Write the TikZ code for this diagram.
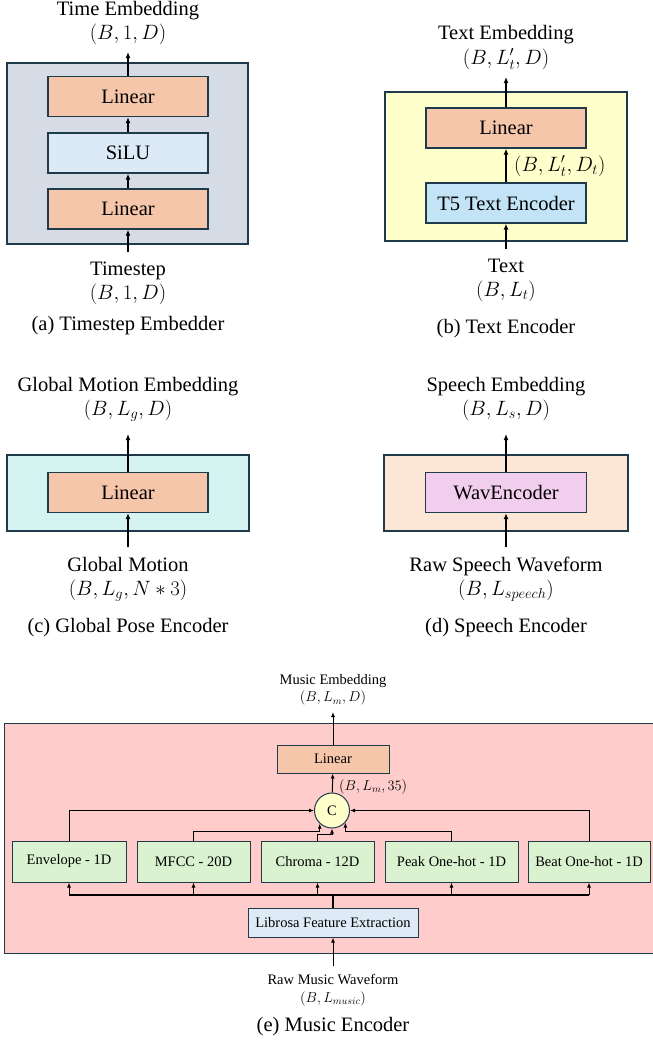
\documentclass[tikz,border=0pt]{standalone}
\usepackage{fontspec}
\setmainfont{Liberation Serif}
\usetikzlibrary{arrows.meta, positioning}

\definecolor{edge}{HTML}{1F3A4B}
\definecolor{grayback}{HTML}{D6DCE5}
\definecolor{linfill}{HTML}{F6C6AA}
\definecolor{silufill}{HTML}{DCE9F6}
\definecolor{yellowback}{HTML}{FFFFCC}
\definecolor{tfivefill}{HTML}{C2E4F6}
\definecolor{cyanback}{HTML}{D5F3F0}
\definecolor{peachback}{HTML}{FCE6D5}
\definecolor{wavfill}{HTML}{F1CDEE}
\definecolor{pinkback}{HTML}{FFCCCC}
\definecolor{featfill}{HTML}{DAF2D0}
\definecolor{librofill}{HTML}{DEEBF7}

\newcommand{\bigfont}{\fontsize{20.5}{24}\selectfont}
\newcommand{\smallfont}{\fontsize{14.5}{17.5}\selectfont}

\begin{document}
\begin{tikzpicture}[
x=1pt, y=-1pt,
panel/.style={
draw=edge,
line width=1.3pt
},
box/.style={
rectangle,
draw=edge,
line width=1.3pt,
minimum width=160pt,
minimum height=40pt,
inner sep=0pt,
font=\bigfont
},
featbox/.style={
rectangle,
draw=edge,
line width=1pt,
fill=featfill,
minimum height=41pt,
inner sep=0pt,
font=\smallfont
},
txt/.style={
align=center,
inner sep=0pt,
font=\bigfont
},
arrow/.style={
-{Latex[length=6pt,width=5pt]},
line width=1.3pt
},
thinarrow/.style={
-{Latex[length=5pt,width=4pt]},
line width=1pt
}
]

\useasboundingbox (0,0) rectangle (653,1042);

% (a) timestep embedder
\draw [panel, fill=grayback] (7,63) rectangle (248,244);
\node (lin1) [box, fill=linfill] at (128,96.5) {Linear};
\node (silu) [box, fill=silufill] at (128,153) {SiLU};
\node (lin2) [box, fill=linfill] at (128,209) {Linear};
\coordinate (aout) at (128,52);
\coordinate (ain) at (128,252);
\node (aemb) [txt] at (128,23) {Time Embedding\\$(B,1,D)$};
\node (astep) [txt] at (128,283) {Timestep\\$(B,1,D)$};
\node (acap) [txt] at (128,325.5) {(a) Timestep Embedder};

\draw [arrow] (lin1) -- (aout);
\draw [arrow] (silu) -- (lin1);
\draw [arrow] (lin2) -- (silu);
\draw [arrow] (ain) -- (lin2);

% (b) text encoder
\draw [panel, fill=yellowback] (385,92) rectangle (627,241);
\node (blin) [box, fill=linfill] at (506,128) {Linear};
\node (tfive) [box, fill=tfivefill] at (506,203) {T5 Text Encoder};
\coordinate (bout) at (506,77);
\coordinate (bin) at (506,249);
\node (bemb) [txt] at (506,47) {Text Embedding\\[1pt]$(B,L_t',D)$};
\node (bdim) [txt, anchor=west] at (514,166) {$(B,L_t',D_t)$};
\node (btext) [txt] at (506,280) {Text\\$(B,L_t)$};
\node (bcap) [txt] at (506,328.5) {(b) Text Encoder};

\draw [arrow] (blin) -- (bout);
\draw [arrow] (tfive) -- (blin);
\draw [arrow] (bin) -- (tfive);

% (c) global pose encoder
\draw [panel, fill=cyanback] (7,455) rectangle (249,531);
\node (clin) [box, fill=linfill] at (128,492.5) {Linear};
\coordinate (cout) at (128,434);
\coordinate (cin) at (128,547);
\node (cemb) [txt] at (128,399) {Global Motion Embedding\\$(B,L_g,D)$};
\node (cmot) [txt] at (128,579) {Global Motion\\$(B,L_g,N\ast 3)$};
\node (ccap) [txt] at (128,627.5) {(c) Global Pose Encoder};

\draw [arrow] (clin) -- (cout);
\draw [arrow] (cin) -- (clin);

% (d) speech encoder
\draw [panel, fill=peachback] (384,455) rectangle (628,531);
\node (wav) [box, fill=wavfill, minimum width=161pt] at (506,492.5) {WavEncoder};
\coordinate (dout) at (506,434);
\coordinate (din) at (506,547);
\node (demb) [txt] at (506,399) {Speech Embedding\\$(B,L_s,D)$};
\node (draw) [txt] at (506,579) {Raw Speech Waveform\\$(B,L_{speech})$};
\node (dcap) [txt] at (506,627.5) {(d) Speech Encoder};

\draw [arrow] (wav) -- (dout);
\draw [arrow] (din) -- (wav);

% (e) music encoder
\draw [panel, line width=1pt, fill=pinkback] (4,723) rectangle (656,953);
\node (mlin) [box, fill=linfill, line width=1pt, minimum width=112pt, minimum height=28pt, font=\smallfont] at (333,759) {Linear};
\node (cat) [circle, draw=edge, line width=1pt, fill=yellowback, minimum size=35pt, inner sep=0pt, font=\smallfont] at (332,810.5) {C};
\node (catdim) [txt, anchor=west, font=\smallfont] at (339,787) {$(B,L_m,35)$};
\node (env) [featbox, minimum width=114pt] at (69,861.5) {Envelope - 1D};
\node (mfcc) [featbox, minimum width=113pt] at (193.5,861.5) {MFCC - 20D};
\node (chroma) [featbox, minimum width=113pt] at (317.5,861.5) {Chroma - 12D};
\node (peak) [featbox, minimum width=133pt] at (451.5,861.5) {Peak One-hot - 1D};
\node (beat) [featbox, minimum width=122pt] at (589,861.5) {Beat One-hot - 1D};
\node (libro) [featbox, fill=librofill, minimum width=170pt, minimum height=29pt] at (333,922.5) {Librosa Feature Extraction};
\coordinate (bus) at (333,895);
\coordinate (mout) at (333,712);
\coordinate (min) at (333,966);
\node (memb) [txt, font=\smallfont] at (333,690) {Music Embedding\\$(B,L_m,D)$};
\node (mraw) [txt, font=\smallfont] at (333,990) {Raw Music Waveform\\$(B,L_{music})$};
\node (mcap) [txt] at (333,1027) {(e) Music Encoder};

\draw [thinarrow] (mlin) -- (mout);
\draw [thinarrow] (cat) -- (mlin);
\draw [thinarrow] (env.north) |- (cat.west);
\draw [thinarrow] (beat.north) |- (cat.east);
\draw [thinarrow] (mfcc.north) -- ++(0,-9.5) -| (cat.-133);
\draw [thinarrow] (chroma.north) -- ++(0,-6.5) -| (cat.south);
\draw [thinarrow] (peak.north) -- ++(0,-9.5) -| (cat.-42);

\draw [line width=1.6pt] (libro.north) -- (bus);
\draw [line width=1.3pt] (env.south |- bus) -- (beat.south |- bus);
\foreach \f in {env,mfcc,chroma,peak,beat}
\draw [thinarrow] (\f.south |- bus) -- (\f.south);
\draw [thinarrow] (min) -- (libro);

\end{tikzpicture}
\end{document}
